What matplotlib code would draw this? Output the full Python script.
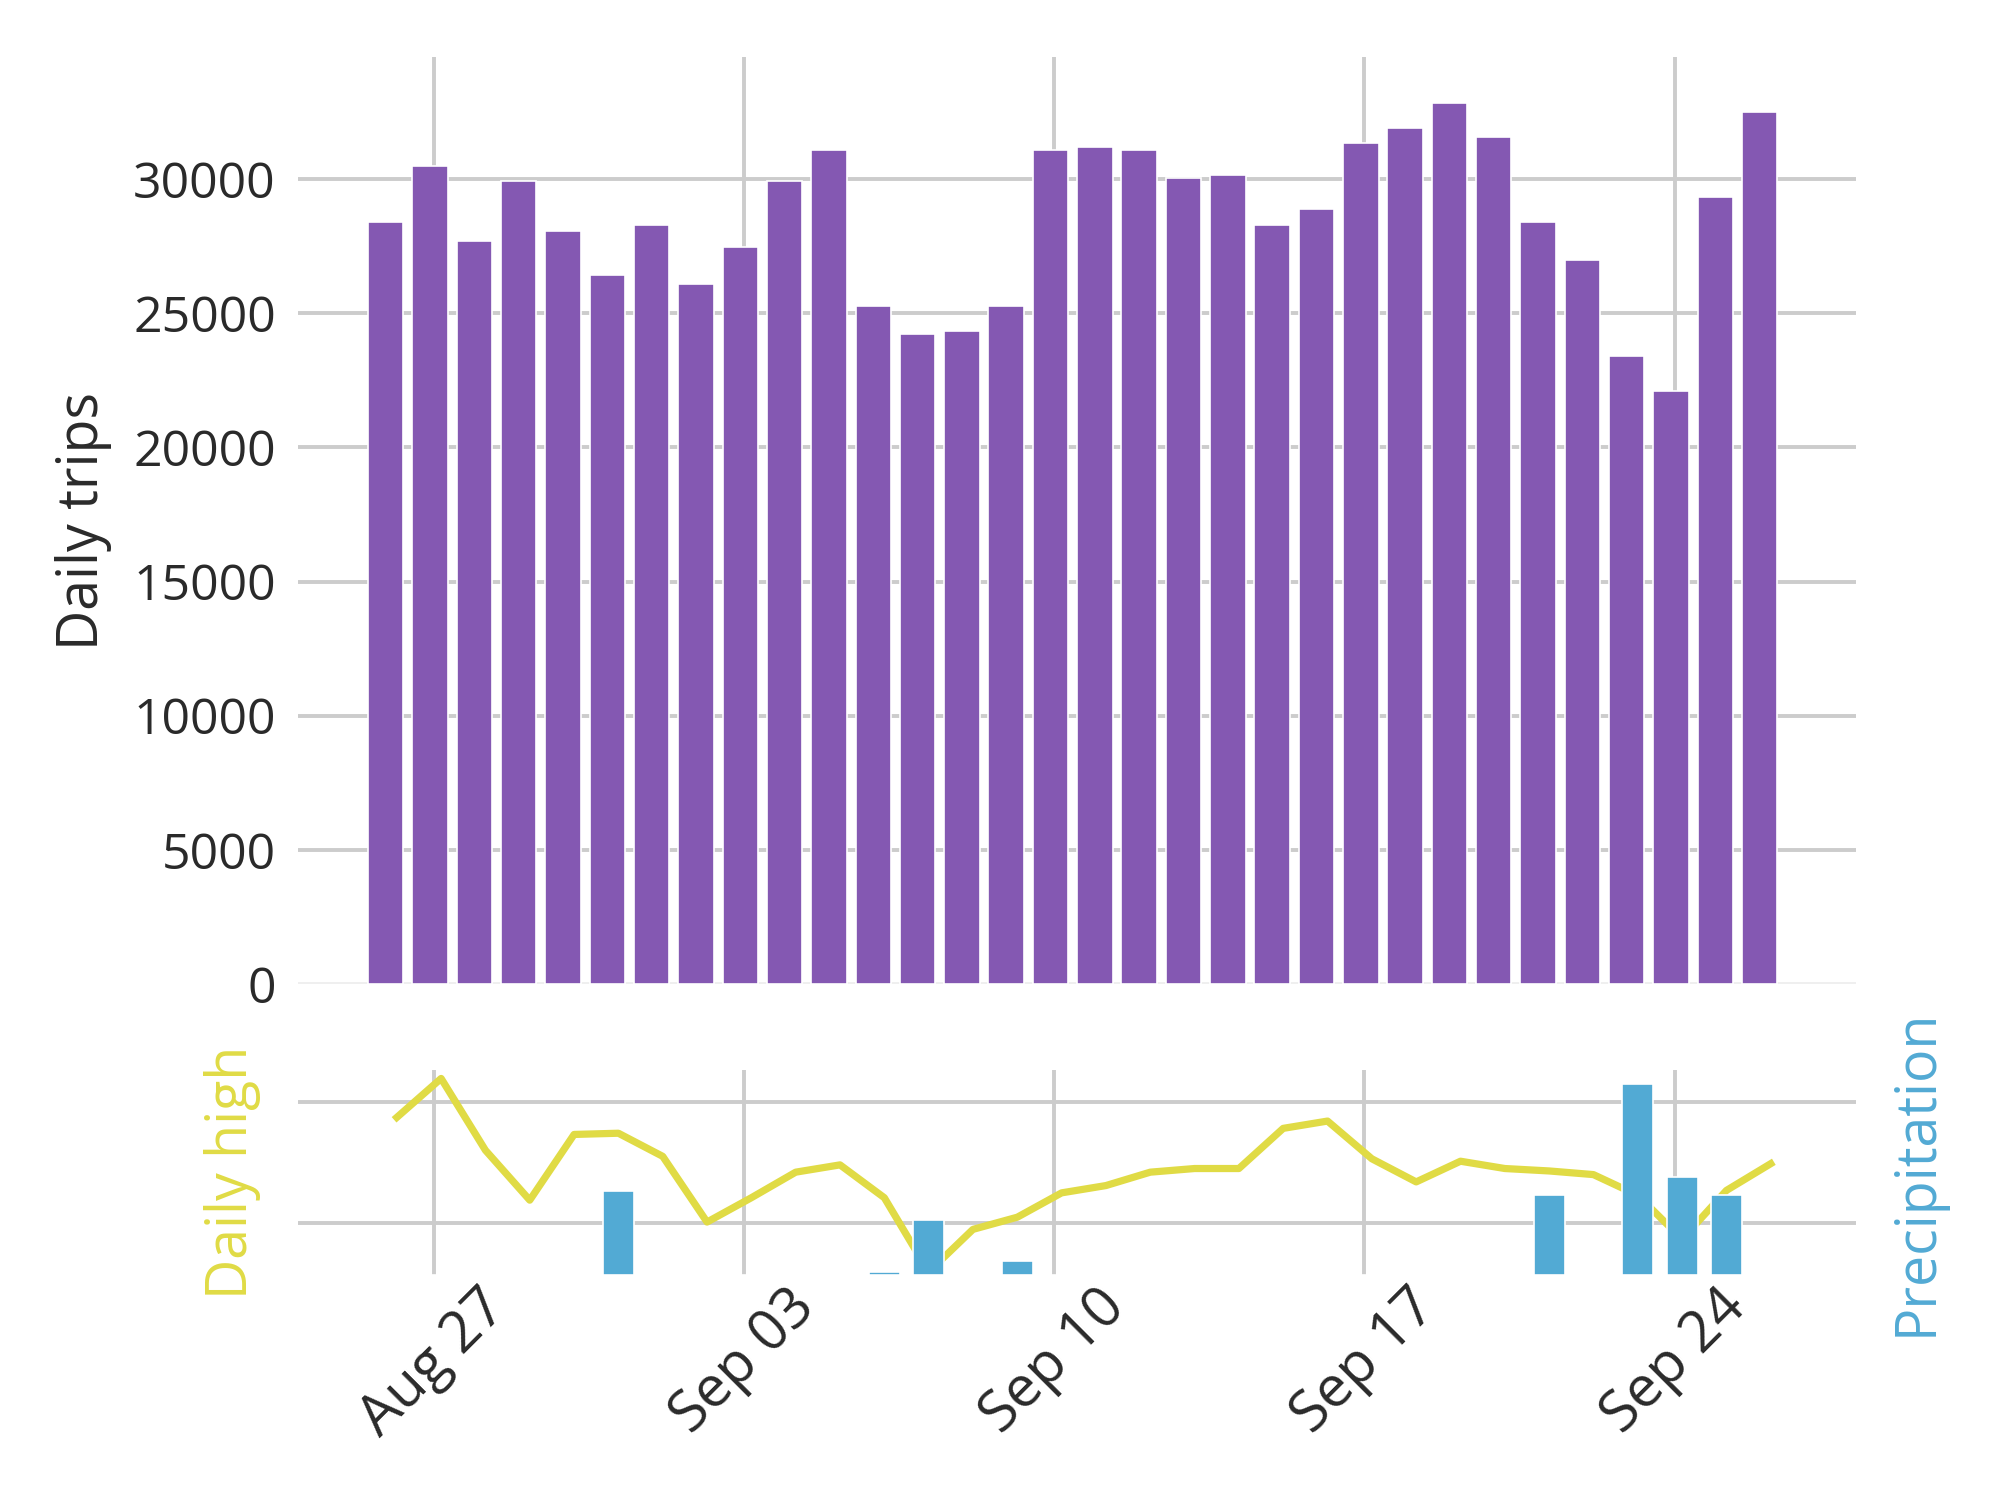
import matplotlib
matplotlib.use("Agg")
import matplotlib.pyplot as plt
import matplotlib.dates as mdates
import numpy as np
import pandas as pd

# ---------------- data ----------------
dates = pd.date_range("2017-08-26", "2017-09-26", freq="D")

daily_trips = [28400, 30500, 27700, 29930, 28050, 26430, 28280, 26080,
               27470, 29930, 31090, 25260, 24220, 24320, 25260, 31090,
               31210, 31090, 30040, 30150, 28280, 28880, 31330, 31900,
               32840, 31550, 28410, 27000, 23400, 22100, 29340, 32490]

daily_high = [78.7, 81.9, 76.0, 71.9, 77.3, 77.4, 75.5, 70.1,
              72.1, 74.2, 74.8, 72.1, 66.0, 69.5, 70.5, 72.5,
              73.1, 74.2, 74.5, 74.5, 77.8, 78.4, 75.3, 73.4,
              75.1, 74.5, 74.3, 74.0, 72.3, 68.7, 72.7, 74.9]

precipitation = [0, 0, 0, 0, 0, 0.41, 0, 0,
                 0, 0, 0, 0.015, 0.27, 0, 0.07, 0,
                 0, 0, 0, 0, 0, 0, 0, 0,
                 0, 0, 0.39, 0, 0.93, 0.48, 0.39, 0]

# ---------------- style ----------------
FONT = ["Open Sans", "DejaVu Sans"]
plt.rcParams["font.family"] = FONT
TEXT = "#2a2a2a"
GRID = "#cccccc"
PURPLE = "#8458b2"
YELLOW = "#e0db45"
BLUE = "#52aad4"

trip_x = dates - pd.Timedelta(hours=2)
weather_x = dates + pd.Timedelta(hours=4)

fig = plt.figure(figsize=(10, 7.5), dpi=200)
ax1 = fig.add_axes([0.149, 0.344, 0.779, 0.618])
ax2 = fig.add_axes([0.149, 0.150, 0.779, 0.1367], sharex=ax1)

for ax in (ax1, ax2):
    ax.set_facecolor("white")
    for s in ax.spines.values():
        s.set_visible(False)
    ax.set_axisbelow(True)
    ax.grid(True, color=GRID, linewidth=1.4)
    ax.tick_params(length=0, labelsize=18, colors=TEXT, pad=8)

# top: daily trips
ax1.bar(trip_x, daily_trips, width=0.8, color=PURPLE, edgecolor="white",
        linewidth=0.6)
ax1.set_ylim(0, 34550)
ax1.set_yticks([0, 5000, 10000, 15000, 20000, 25000, 30000])
ax1.set_ylabel("Daily trips", fontsize=20, color=TEXT)
ax1.yaxis.set_label_coords(-0.1195, 0.5)
plt.setp(ax1.get_xticklabels(), visible=False)
fig.canvas.draw()
ax1.get_ygridlines()[0].set_color("#efefef")

# bottom: daily high + precipitation
ax2.plot(weather_x, daily_high, color=YELLOW, linewidth=2.6)
ax2.set_ylim(65.75, 82.6)
ax2.set_yticks([70, 80])
ax2.set_yticklabels([])
ax2.set_ylabel("Daily high", fontsize=20, color=YELLOW)
ax2.yaxis.set_label_coords(-0.024, 0.5)
ax2.tick_params(axis="x", pad=1.5, labelsize=20.5)

ax3 = ax2.twinx()
for s in ax3.spines.values():
    s.set_visible(False)
ax3.bar(weather_x, precipitation, width=0.7, color=BLUE, edgecolor="white",
        linewidth=0.6)
ax3.set_ylim(0, 1.0)
ax3.set_yticks([])
ax3.grid(False)
ax3.set_ylabel("Precipitation", fontsize=20, color=BLUE)
ax3.yaxis.set_label_coords(1.0207, 0.5)

ax2.xaxis.set_major_locator(mdates.WeekdayLocator(byweekday=mdates.SU))
ax2.xaxis.set_major_formatter(mdates.DateFormatter("%b %d"))
ax2.set_xlim(pd.Timestamp("2017-08-23 22:30"), pd.Timestamp("2017-09-28 02:10"))
for lbl in ax2.get_xticklabels():
    lbl.set_rotation(45)
    lbl.set_ha("center")

fig.savefig("out.png", dpi=200, facecolor="white")
